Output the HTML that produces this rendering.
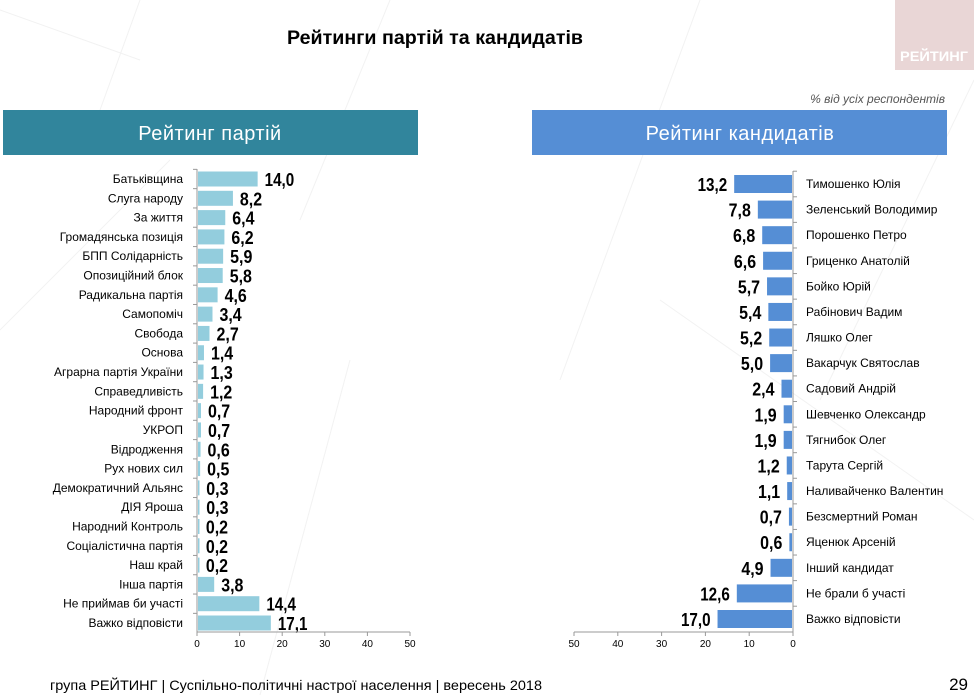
<!DOCTYPE html>
<html><head><meta charset="utf-8"><style>
html,body{margin:0;padding:0;background:#fff;}
svg{display:block;font-family:"Liberation Sans",sans-serif;}
</style></head><body>
<svg width="974" height="695" viewBox="0 0 974 695" xmlns="http://www.w3.org/2000/svg">
<g stroke="#f2f2f2" stroke-width="1" fill="none">
<line x1="0" y1="10" x2="140" y2="60"/><line x1="140" y1="0" x2="100" y2="110"/>
<line x1="390" y1="0" x2="300" y2="220"/><line x1="700" y1="0" x2="560" y2="380"/>
<line x1="0" y1="330" x2="170" y2="160"/><line x1="350" y1="360" x2="260" y2="695"/>
<line x1="660" y1="300" x2="974" y2="520"/><line x1="974" y1="80" x2="820" y2="400"/>
</g>
<rect x="895" y="0" width="79" height="70" fill="#e9d6d6"/>
<text x="934" y="61" font-size="14" font-weight="bold" fill="#fff" text-anchor="middle" textLength="68" lengthAdjust="spacingAndGlyphs">РЕЙТИНГ</text>
<text x="287" y="44" font-size="19" font-weight="bold" textLength="296" lengthAdjust="spacingAndGlyphs">Рейтинги партій та кандидатів</text>
<text x="945" y="103" font-size="12" font-style="italic" fill="#555" text-anchor="end">% від усіх респондентів</text>
<rect x="3" y="110" width="415" height="45" fill="#31859c"/>
<text x="210" y="140" font-size="20" fill="#fff" text-anchor="middle" letter-spacing="0.5">Рейтинг партій</text>
<rect x="532" y="110" width="415" height="45" fill="#558ed5"/>
<text x="740" y="140" font-size="20" fill="#fff" text-anchor="middle" letter-spacing="0.5">Рейтинг кандидатів</text>
<g id="left"></g>
<g id="right"></g>
<text x="50" y="690" font-size="14" textLength="492" lengthAdjust="spacingAndGlyphs">група РЕЙТИНГ |  Суспільно-політичні настрої населення | вересень  2018</text>
<text x="968" y="690" font-size="17" text-anchor="end">29</text>
</svg>
<script>
var NS="http://www.w3.org/2000/svg";
function el(p,t,a,txt){var e=document.createElementNS(NS,t);for(var k in a)e.setAttribute(k,a[k]);if(txt!==undefined)e.textContent=txt;p.appendChild(e);return e;}
function val(p,x,y,v,anchor){var s=v.toFixed(1).replace('.',',');el(p,'text',{x:x,y:y,'font-size':18,'font-weight':'bold','text-anchor':anchor,textLength:s.length*7.4,lengthAdjust:'spacingAndGlyphs'},s);}
var L=document.getElementById('left');
var ld=[["Батьківщина",14.0],["Слуга народу",8.2],["За життя",6.4],["Громадянська позиція",6.2],["БПП Солідарність",5.9],["Опозиційний блок",5.8],["Радикальна партія",4.6],["Самопоміч",3.4],["Свобода",2.7],["Основа",1.4],["Аграрна партія України",1.3],["Справедливість",1.2],["Народний фронт",0.7],["УКРОП",0.7],["Відродження",0.6],["Рух нових сил",0.5],["Демократичний Альянс",0.3],["ДІЯ Яроша",0.3],["Народний Контроль",0.2],["Соціалістична партія",0.2],["Наш край",0.2],["Інша партія",3.8],["Не приймав би участі",14.4],["Важко відповісти",17.1]];
var y0=179,k=4.26,ax=197;
var sp=(623-179)/(ld.length-1);
ld.forEach(function(d,i){var y=y0+i*sp;
el(L,'rect',{x:ax+1,y:y-7.5,width:Math.max(d[1]*k,1.5),height:15,fill:'#93cddd'});
el(L,'text',{x:183,y:y+4,'font-size':12,'text-anchor':'end'},d[0]);
val(L,ax+d[1]*k+8,y+7,d[1],'start');
el(L,'line',{x1:193,y1:y-sp/2,x2:ax,y2:y-sp/2,stroke:'#999'});
});
el(L,'line',{x1:ax,y1:169,x2:ax,y2:632,stroke:'#999'});
el(L,'line',{x1:ax,y1:632,x2:410,y2:632,stroke:'#999'});
for(var i=0;i<=5;i++){var x=ax+i*42.6;el(L,'line',{x1:x,y1:632,x2:x,y2:636,stroke:'#999'});el(L,'text',{x:x,y:647,'font-size':10,'text-anchor':'middle'},i*10);}
var R=document.getElementById('right');
var rd=[["Тимошенко Юлія",13.2],["Зеленський Володимир",7.8],["Порошенко Петро",6.8],["Гриценко Анатолій",6.6],["Бойко Юрій",5.7],["Рабінович Вадим",5.4],["Ляшко Олег",5.2],["Вакарчук Святослав",5.0],["Садовий Андрій",2.4],["Шевченко Олександр",1.9],["Тягнибок Олег",1.9],["Тарута Сергій",1.2],["Наливайченко Валентин",1.1],["Безсмертний Роман",0.7],["Яценюк Арсеній",0.6],["Інший кандидат",4.9],["Не брали б участі",12.6],["Важко відповісти",17.0]];
var rx=793,rk=4.38,ry0=184,rsp=(619-184)/17;
rd.forEach(function(d,i){var y=ry0+i*rsp;var w=d[1]*rk;
el(R,'rect',{x:rx-1-w,y:y-9,width:w,height:18,fill:'#558ed5'});
val(R,rx-w-8,y+7,d[1],'end');
el(R,'text',{x:806,y:y+4,'font-size':12},d[0]);
el(R,'line',{x1:rx,y1:y-rsp/2,x2:rx+4,y2:y-rsp/2,stroke:'#999'});
});
el(R,'line',{x1:rx,y1:171,x2:rx,y2:632,stroke:'#999'});
el(R,'line',{x1:574,y1:632,x2:rx,y2:632,stroke:'#999'});
for(var i=0;i<=5;i++){var x=rx-i*43.8;el(R,'line',{x1:x,y1:632,x2:x,y2:636,stroke:'#999'});el(R,'text',{x:x,y:647,'font-size':10,'text-anchor':'middle'},i*10);}
</script>
</body></html>
